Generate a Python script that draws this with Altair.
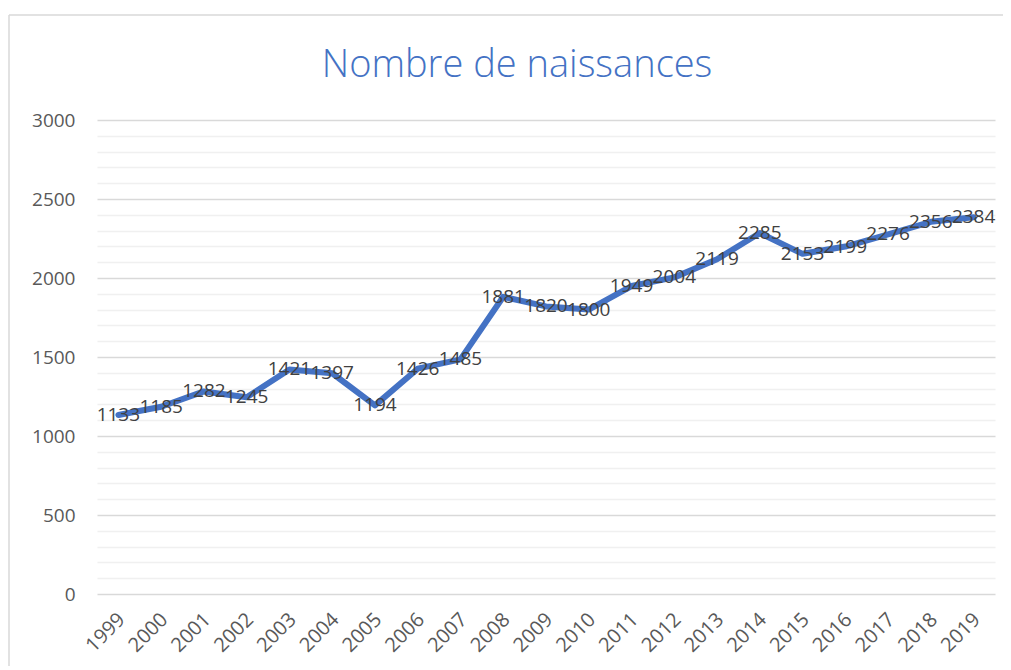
import altair as alt
import pandas as pd

years = [str(y) for y in range(1999, 2020)]
births = [1133, 1185, 1282, 1245, 1421, 1397, 1194, 1426, 1485, 1881,
          1820, 1800, 1949, 2004, 2119, 2285, 2153, 2199, 2276, 2356, 2384]
y_ticks = list(range(0, 3001, 100))
title_text = "Nombre de naissances"

df = pd.DataFrame({"annee": years, "naissances": births})

FONT = "Open Sans"

x_enc = alt.X("annee:N", sort=None, title=None,
              scale=alt.Scale(type="point", padding=0.5),
              axis=alt.Axis(labelAngle=-45, labelFontSize=20, labelColor="#595959",
                            labelFont=FONT, domain=False, ticks=False, grid=False,
                            labelPadding=15, labelOffset=-4))
y_enc = alt.Y("naissances:Q", title=None,
              scale=alt.Scale(domain=[0, 3000], nice=False),
              axis=alt.Axis(values=y_ticks, format="d", labelOverlap=False,
                            labelExpr="datum.value % 500 === 0 ? datum.label : ''",
                            labelFontSize=19, labelColor="#595959", labelFont=FONT,
                            labelPadding=22, domain=False, ticks=False,
                            gridColor=alt.condition("datum.value % 500 === 0",
                                                    alt.value("#d9d9d9"), alt.value("#f0f0f0")),
                            gridWidth=1.3))

base = alt.Chart(df).encode(x=x_enc, y=y_enc)

frame = pd.DataFrame({"k": [0]})
border_top = alt.Chart(frame).mark_rule(color="#d9d9d9", strokeWidth=1.5).encode(
    x=alt.value(-88), x2=alt.value(1000), y=alt.value(-105))
border_left = alt.Chart(frame).mark_rule(color="#d9d9d9", strokeWidth=1.5).encode(
    x=alt.value(-88), y=alt.value(-105), y2=alt.value(600))

title = alt.Chart(pd.DataFrame({"t": [title_text]})).mark_text(
    fontSize=38, font=FONT, fontWeight=300, color="#4472C4",
    align="center", baseline="alphabetic"
).encode(x=alt.value(420), y=alt.value(-43), text="t:N")

line = base.mark_line(color="#4472C4", strokeWidth=6, strokeCap="round",
                      strokeJoin="round")

labels = base.mark_text(fontSize=19, color="#404040", font=FONT,
                        align="center", baseline="middle").encode(text="naissances:Q")

chart = alt.layer(border_top, border_left, title, line, labels).properties(
    width=898, height=474,
    background="white",
    autosize=alt.AutoSizeParams(type="none"),
    padding={"left": 89, "top": 112, "right": 8, "bottom": 72},
).configure_view(strokeWidth=0, stroke="transparent")

chart.save("out.html", embed_options={"renderer": "svg", "actions": False})
